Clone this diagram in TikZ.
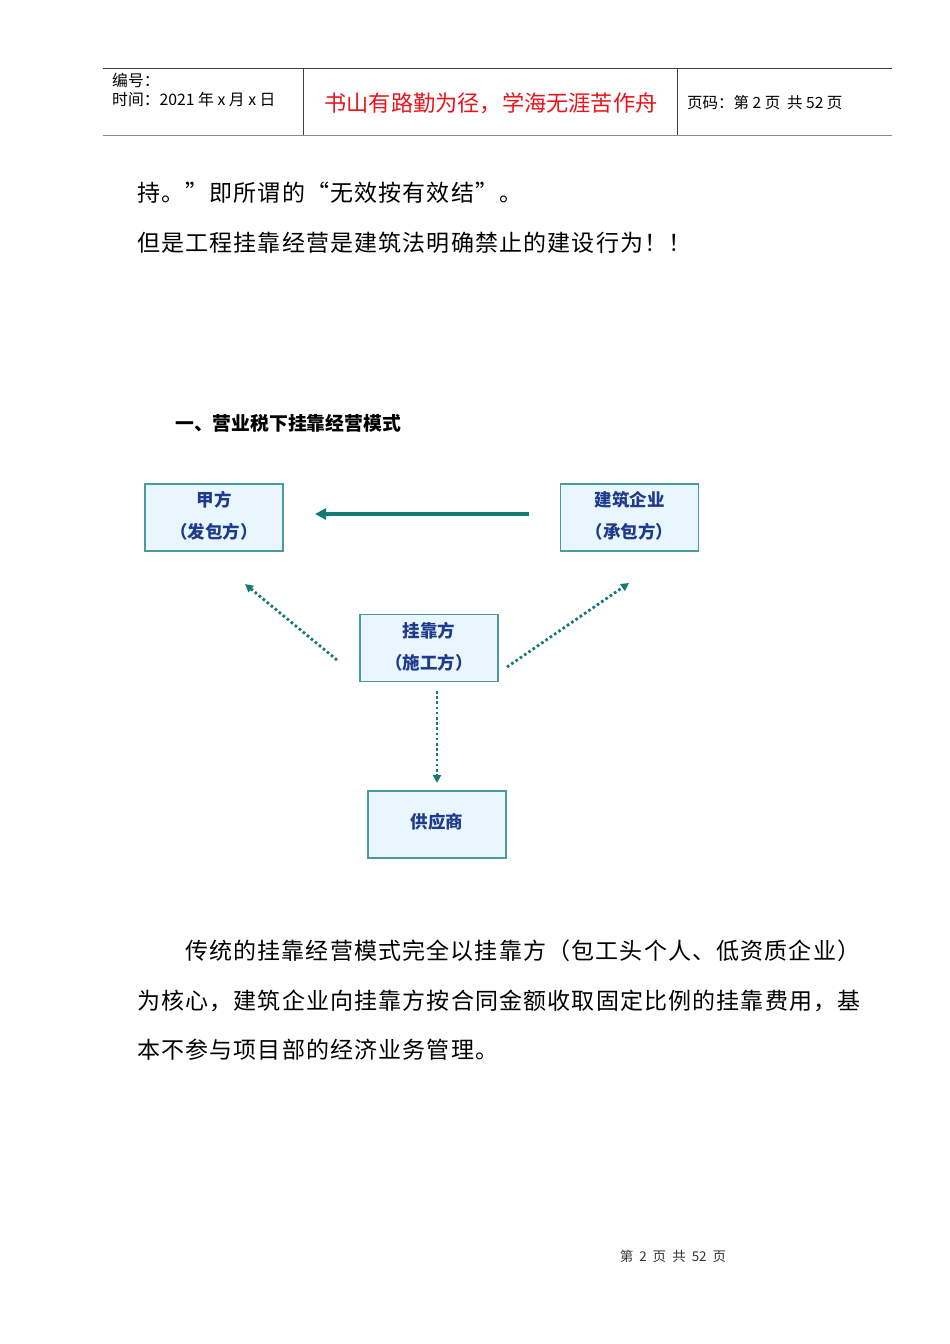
\documentclass[tikz,border=0pt]{standalone}
\usepackage{fontspec}
\setmainfont{Noto Sans CJK SC}
\newfontfamily\cjk{Noto Sans CJK SC}
\newfontfamily\cjkwide[LetterSpace=5]{Noto Sans CJK SC}
\usetikzlibrary{arrows.meta}
\definecolor{boxfill}{HTML}{EAF6FE}
\definecolor{boxline}{HTML}{4A9C9C}
\definecolor{boxtext}{HTML}{1F3C8C}
\definecolor{arrowcol}{HTML}{157A74}
\definecolor{motto}{HTML}{E8141B}
\tikzset{
  party/.style={draw=boxline, line width=1.2pt, fill=boxfill, minimum width=138pt, minimum height=67pt, inner sep=0pt},
  ptext/.style={text=boxtext, font=\cjk\bfseries\fontsize{17.5}{20}\selectfont, inner sep=0pt},
  body/.style={anchor=west, inner sep=0pt, font=\cjkwide\fontsize{23}{26}\selectfont},
  dotarrow/.style={arrowcol, line width=2.8pt, dash pattern=on 2.6pt off 2.6pt, -{Triangle[length=8pt,width=8pt]}},
  hdr/.style={anchor=west, inner sep=0pt, font=\cjk\fontsize{15.8}{18}\selectfont}
}
\begin{document}
\begin{tikzpicture}[x=1pt,y=-1pt]
\useasboundingbox (0,0) rectangle (950,1344);
% header
\draw[line width=0.8pt, black!75] (103,68) -- (892,68);
\draw[line width=1.6pt, black!45] (103,135.5) -- (892,135.5);
\draw[line width=0.8pt, black!75] (303,68) -- (303,135);
\draw[line width=0.8pt, black!75] (677,68) -- (677,135);
\node[hdr] (h1) at (112,80) {编号：};
\node[hdr] (h2) at (112,99) {时间：2021 年 x 月 x 日};
\node[inner sep=0pt, text=motto, font=\cjk\fontsize{22.2}{26}\selectfont] (h3) at (491,103) {书山有路勤为径，学海无涯苦作舟};
\node[hdr, font=\cjk\fontsize{15.5}{18}\selectfont] (h4) at (687,103) {页码：第 2 页\ \ 共 52 页};
% body text
\node[body] (t1) at (137,193) {持。”即所谓的“无效按有效结”。};
\node[body] (t2) at (137,243) {但是工程挂靠经营是建筑法明确禁止的建设行为！！};
\node[anchor=west, inner sep=0pt, font=\cjk\bfseries\fontsize{18.8}{22}\selectfont] (head) at (175,423) {一、营业税下挂靠经营模式};
% boxes
\node[party] (jia) at (214,517.5) {};
\node[ptext] at (214,500) {甲方};
\node[ptext] at (214,532) {（发包方）};
\node[party] (jz) at (629.5,517.5) {};
\node[ptext] at (629.5,500) {建筑企业};
\node[ptext] at (629.5,532) {（承包方）};
\node[party] (gk) at (429,648) {};
\node[ptext] at (429,630.5) {挂靠方};
\node[ptext] at (429,662.5) {（施工方）};
\node[party] (gys) at (437,824.5) {};
\node[ptext] at (437,822) {供应商};
% connectors
\coordinate (a1s) at (529,514);
\coordinate (a1e) at (315,514);
\draw[arrowcol, line width=3.8pt, -{Triangle[length=11pt,width=11pt]}] (a1s) -- (a1e);
\coordinate (d1s) at (337,660);
\coordinate (d1e) at (245,584);
\draw[dotarrow] (d1s) -- (d1e);
\coordinate (d2s) at (507,667);
\coordinate (d2e) at (629,583);
\draw[dotarrow] (d2s) -- (d2e);
\coordinate (d3s) at (437,691);
\coordinate (d3e) at (437,783);
\draw[dotarrow] (d3s) -- (d3e);
% paragraph
\node[body] (p1) at (185,951) {传统的挂靠经营模式完全以挂靠方（包工头个人、低资质企业）};
\node[body] (p2) at (137,1001) {为核心，建筑企业向挂靠方按合同金额收取固定比例的挂靠费用，基};
\node[body] (p3) at (137,1050) {本不参与项目部的经济业务管理。};
% footer
\node[inner sep=0pt, font=\cjk\fontsize{13.5}{15}\selectfont, text=black!80] (foot) at (673,1256) {第\hspace{6pt}2\hspace{6pt}页\hspace{6pt}共\hspace{6pt}52\hspace{6pt}页};
\end{tikzpicture}
\end{document}
